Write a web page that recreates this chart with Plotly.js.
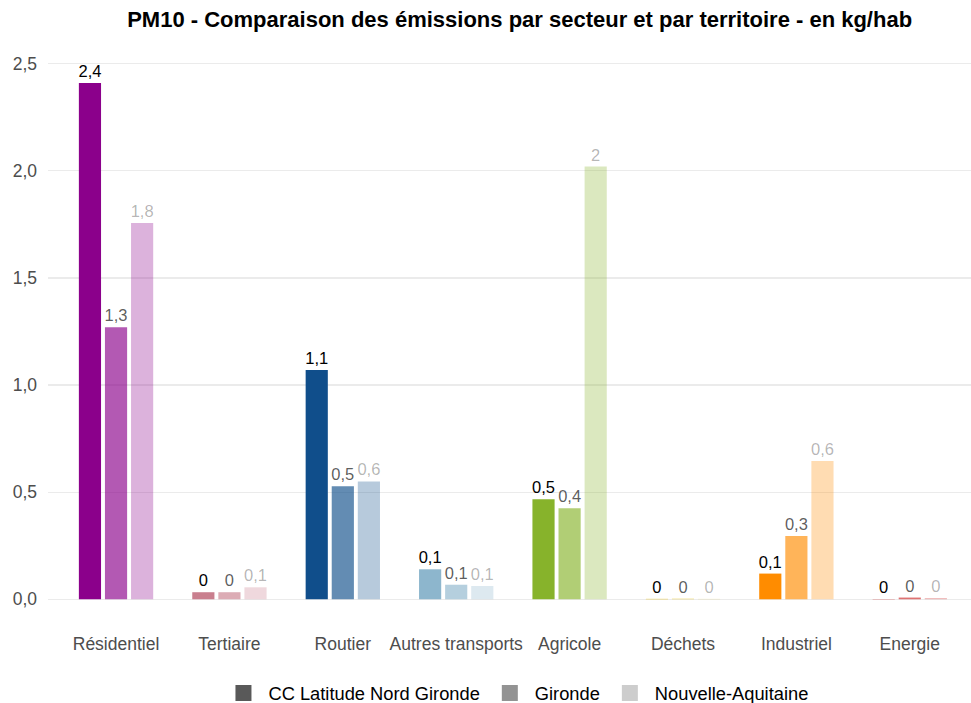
<!DOCTYPE html>
<html>
<head>
<meta charset="utf-8">
<script src="https://cdn.plot.ly/plotly-3.0.1.min.js"></script>
<style>html,body{margin:0;padding:0;background:#fff}#chart{width:971px;height:703px}</style>
</head>
<body>
<div id="chart"></div>
<script>
var sectors = ["Résidentiel", "Tertiaire", "Routier", "Autres transports", "Agricole", "Déchets", "Industriel", "Energie"];
var territories = ["CC Latitude Nord Gironde", "Gironde", "Nouvelle-Aquitaine"];
var ccValues = [2.41, 0.033, 1.07, 0.14, 0.467, 0.002, 0.12, 0.001];
var girondeValues = [1.27, 0.033, 0.528, 0.068, 0.425, 0.003, 0.295, 0.008];
var naValues = [1.757, 0.056, 0.55, 0.062, 2.02, 0.002, 0.645, 0.006];
var sectorColors = [[139,0,139],[201,127,142],[16,78,139],[141,182,205],[135,179,43],[230,196,40],[255,140,0],[205,38,38]];
var yTickVals = [0, 0.5, 1, 1.5, 2, 2.5];
var yTickText = ["0,0", "0,5", "1,0", "1,5", "2,0", "2,5"];

var seriesValues = [ccValues, girondeValues, naValues];
var alphas = [1, 0.65, 0.3];
var legendGray = [89, 89, 89];

function fmt(v) {
  return String(Number(v.toFixed(1))).replace('.', ',');
}

var traces = [];
seriesValues.forEach(function (vals, i) {
  traces.push({
    type: 'bar',
    name: territories[i],
    x: sectors,
    y: vals,
    text: vals.map(fmt),
    textposition: 'outside',
    constraintext: 'none',
    cliponaxis: false,
    textangle: 0,
    textfont: {family: 'Liberation Sans, Arial, sans-serif', size: 16.5, color: 'rgba(0,0,0,' + alphas[i] + ')'},
    marker: {color: sectorColors.map(function (c) { return 'rgba(' + c.join(',') + ',' + alphas[i] + ')'; }), line: {width: 0}},
    showlegend: false,
    hoverinfo: 'x+y'
  });
});
territories.forEach(function (t, i) {
  traces.push({
    type: 'scatter',
    mode: 'markers',
    name: t,
    x: [null],
    y: [null],
    marker: {symbol: 'square', size: 21, color: 'rgba(' + legendGray.join(',') + ',' + alphas[i] + ')'},
    showlegend: true
  });
});

var layout = {
  width: 971,
  height: 703,
  paper_bgcolor: '#fff',
  plot_bgcolor: '#fff',
  margin: {l: 48, r: 0, t: 53, b: 93},
  font: {family: 'Liberation Sans, Arial, sans-serif', color: '#4d4d4d', size: 17},
  title: {
    text: '<b>PM10 - Comparaison des émissions par secteur et par territoire - en kg/hab</b>',
    font: {family: 'Liberation Sans, Arial, sans-serif', size: 22, color: '#000'},
    x: 0.511, xref: 'paper', xanchor: 'center',
    y: 0.972, yref: 'container', yanchor: 'middle'
  },
  barmode: 'group',
  bargap: 0.31,
  bargroupgap: 0.15,
  xaxis: {
    type: 'category',
    range: [-0.6, 7.54],
    automargin: false,
    showgrid: false,
    zeroline: false,
    showline: false,
    ticks: '',
    ticklabelstandoff: 21,
    tickfont: {size: 17.5, color: '#4d4d4d'}
  },
  yaxis: {
    range: [-0.05, 2.55],
    automargin: false,
    tickvals: yTickVals,
    ticktext: yTickText,
    showgrid: true,
    gridcolor: '#ebebeb',
    gridwidth: 1.2,
    zeroline: false,
    showline: false,
    ticks: '',
    ticklabelstandoff: 10,
    tickfont: {size: 17.5, color: '#4d4d4d'}
  },
  legend: {
    orientation: 'h',
    x: 0.507, xanchor: 'center',
    y: 0.014, yref: 'container', yanchor: 'middle',
    font: {size: 18.3, color: '#000'},
    itemwidth: 40,
    bgcolor: 'rgba(0,0,0,0)'
  },
  showlegend: true
};

Plotly.newPlot('chart', traces, layout, {displayModeBar: false, staticPlot: true});
</script>
</body>
</html>
